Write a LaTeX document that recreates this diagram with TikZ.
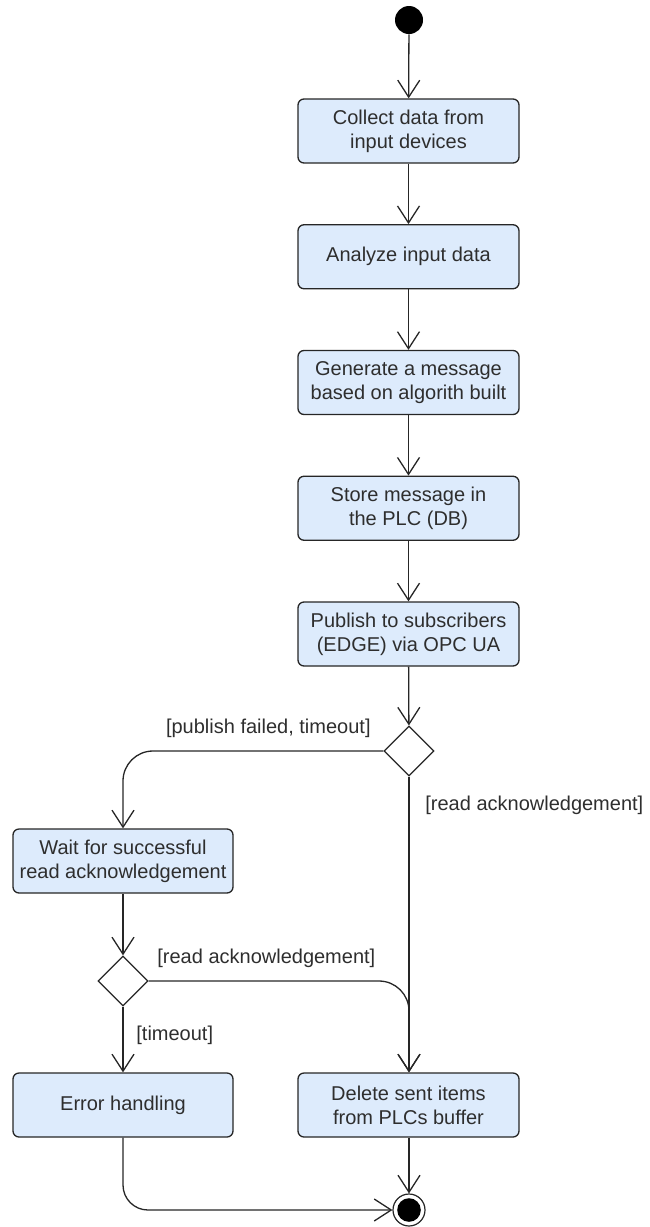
\documentclass[tikz,border=0pt]{standalone}
\usepackage{fontspec}
\setmainfont{Liberation Sans}
\usetikzlibrary{arrows.meta,shapes.geometric}
\definecolor{actfill}{HTML}{DDEBFC}
\definecolor{lineclr}{HTML}{262626}
\definecolor{txtclr}{HTML}{2E2E2E}
\begin{document}
\begin{tikzpicture}[x=0.5pt,y=-0.5pt,
  font=\fontsize{10}{12}\selectfont,
  every node/.style={text=txtclr},
  action/.style={draw=lineclr,line width=0.65pt,fill=actfill,rounded corners=3pt,
    minimum width=110.5pt,minimum height=32pt,align=center,inner sep=2pt},
  decision/.style={diamond,draw=lineclr,line width=0.65pt,fill=white,
    minimum width=25pt,minimum height=25pt,inner sep=0pt,aspect=1},
  flow/.style={draw=lineclr,line width=0.65pt,-{Straight Barb[length=8.5pt,width=11pt,line width=0.65pt]}},
  guard/.style={inner sep=0pt}]
\useasboundingbox (0,0) rectangle (649,1227);

% initial and final nodes
\node[circle,fill=black,minimum size=14pt,inner sep=0pt] (start) at (409,20) {};
\node[circle,draw=lineclr,line width=0.6pt,fill=white,minimum size=16pt,inner sep=0pt,
  path picture={\fill[black] (path picture bounding box.center) circle (5.9pt);}] (stop) at (409,1210) {};

% actions of the main column
\node[action] (collect) at (408.5,131) {Collect data from\\input devices};
\node[action] (analyze) at (408.5,256.75) {Analyze input data};
\node[action] (generate) at (408.5,382.5) {Generate a message\\based on algorith built};
\node[action] (store) at (408.5,508.25) {Store message in\\the PLC (DB)};
\node[action] (publish) at (408.5,634) {Publish to subscribers\\(EDGE) via OPC UA};

% decisions and remaining actions
\node[decision] (dpub) at (409,751) {};
\node[action,minimum width=110pt] (wait) at (123,861) {Wait for successful\\read acknowledgement};
\node[decision] (dack) at (123,981) {};
\node[action,minimum width=110pt] (error) at (123,1105) {Error handling};
\node[action] (delete) at (408.5,1105) {Delete sent items\\from PLCs buffer};

% guard labels
\node[guard,anchor=east] (gfail) at (371,728) {[publish failed, timeout]};
\node[guard,anchor=west] (gread1) at (425,805) {[read acknowledgement]};
\node[guard,anchor=west] (gread2) at (157,958) {[read acknowledgement]};
\node[guard,anchor=west] (gtime) at (136,1035) {[timeout]};

% control flows
\draw[flow] (start) -- (collect);
\draw[flow] (collect) -- (analyze);
\draw[flow] (analyze) -- (generate);
\draw[flow] (generate) -- (store);
\draw[flow] (store) -- (publish);
\draw[flow] (publish) -- (dpub);
\draw[flow,rounded corners=15pt] (dpub.west) -| (wait.north);
\draw[flow] (dpub.south) -- (dpub.south |- delete.north);
\draw[flow] (wait) -- (dack);
\draw[flow] (dack.south) -- (error.north);
\draw[flow,rounded corners=15pt] (dack.east) -| (dpub.south |- delete.north);
\draw[flow,rounded corners=12.5pt] (error.south) |- (stop.west);
\draw[flow] (delete.south -| stop) -- (stop.north);
\end{tikzpicture}
\end{document}
